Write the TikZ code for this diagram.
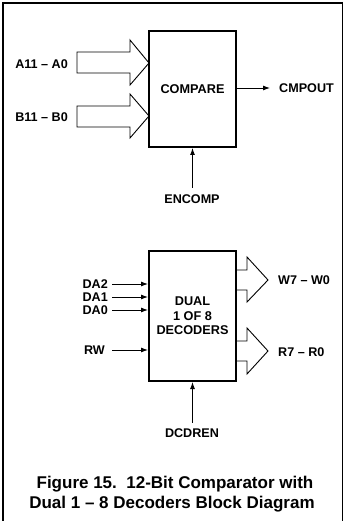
\documentclass[tikz,border=0pt]{standalone}
\usepackage{fontspec}
\setmainfont{Liberation Sans}
\usetikzlibrary{arrows.meta,calc}
\begin{document}
\begin{tikzpicture}[x=1pt,y=-1pt,
  lbl/.style={font=\bfseries\fontsize{12.6}{14}\selectfont, inner sep=0pt},
  blk/.style={draw, line width=2pt, minimum width=87pt, align=center,
              font=\bfseries\fontsize{12.7}{14.5}\selectfont},
  sig/.style={line width=0.9pt, -{Latex[length=7pt,width=5pt]}},
  bus/.style={line width=0.9pt, line join=miter},
  captxt/.style={font=\bfseries\fontsize{17}{20}\selectfont, inner sep=0pt}]
\useasboundingbox (0,0) rectangle (344,521);
% frame
\draw[line width=2.5pt] (3.2,530) -- (3.2,3);
\draw[line width=2pt] (2,3) -- (342,3);
\draw[line width=1pt] (342.3,2) -- (342.3,530);
% compare block
\node[blk, minimum height=116pt] (cmp) at (192.5,89) {COMPARE};
\coordinate (ain) at (149,63);
\coordinate (bin) at (149,116);
\draw[bus] (ain) -- ++(-19,-23) -- ++(0,12) -- ++(-53,0) -- ++(0,21) -- ++(53,0) -- ++(0,12) -- cycle;
\draw[bus] (bin) -- ++(-19,-22) -- ++(0,12) -- ++(-53,0) -- ++(0,21) -- ++(53,0) -- ++(0,11) -- cycle;
\node[lbl, anchor=east] (a) at (68,64) {A11 – A0};
\node[lbl, anchor=east] (b) at (68,117.5) {B11 – B0};
\node[lbl, anchor=west] (cmpout) at (279,88) {CMPOUT};
\draw[sig, shorten >=9pt] (cmp.east |- cmpout) -- (cmpout.west);
\node[lbl] (encomp) at (192,199.5) {ENCOMP};
\draw[sig, shorten <=7pt] (encomp.north -| cmp.south) -- (cmp.south);
% decoder block
\node[blk, minimum height=130pt] (dec) at (192.5,316) {DUAL\\1 OF 8\\DECODERS};
\coordinate (wout) at (236,280);
\coordinate (rout) at (236,351.5);
\draw[bus] ($(wout)+(0,-10)$) -- ++(11,0) -- ++(0,-13) -- ++(21,23) -- ++(-21,22) -- ++(0,-12) -- ++(-11,0);
\draw[bus] ($(rout)+(0,-10.5)$) -- ++(11,0) -- ++(0,-13) -- ++(21,23) -- ++(-21,23) -- ++(0,-13) -- ++(-11,0);
\node[lbl, anchor=west] (w) at (278,280) {W7 – W0};
\node[lbl, anchor=west] (r) at (278,352) {R7 – R0};
\node[lbl, anchor=east] (da2) at (108,284) {DA2};
\node[lbl, anchor=east] (da1) at (108,297) {DA1};
\node[lbl, anchor=east] (da0) at (108,310) {DA0};
\node[lbl, anchor=east] (rw) at (105,350) {RW};
\draw[sig, shorten <=4pt] (da2.east) -- (dec.west |- da2);
\draw[sig, shorten <=4pt] (da1.east) -- (dec.west |- da1);
\draw[sig, shorten <=4pt] (da0.east) -- (dec.west |- da0);
\draw[sig, shorten <=7pt] (rw.east) -- (dec.west |- rw);
\node[lbl] (dcdren) at (192,433.5) {DCDREN};
\draw[sig, shorten <=6pt] (dcdren.north -| dec.south) -- (dec.south);
% caption
\node[captxt] (cap1) at (175,484) {Figure 15.\ \ 12-Bit Comparator with};
\node[captxt] (cap2) at (172,504) {Dual 1 – 8 Decoders Block Diagram};
\end{tikzpicture}
\end{document}
